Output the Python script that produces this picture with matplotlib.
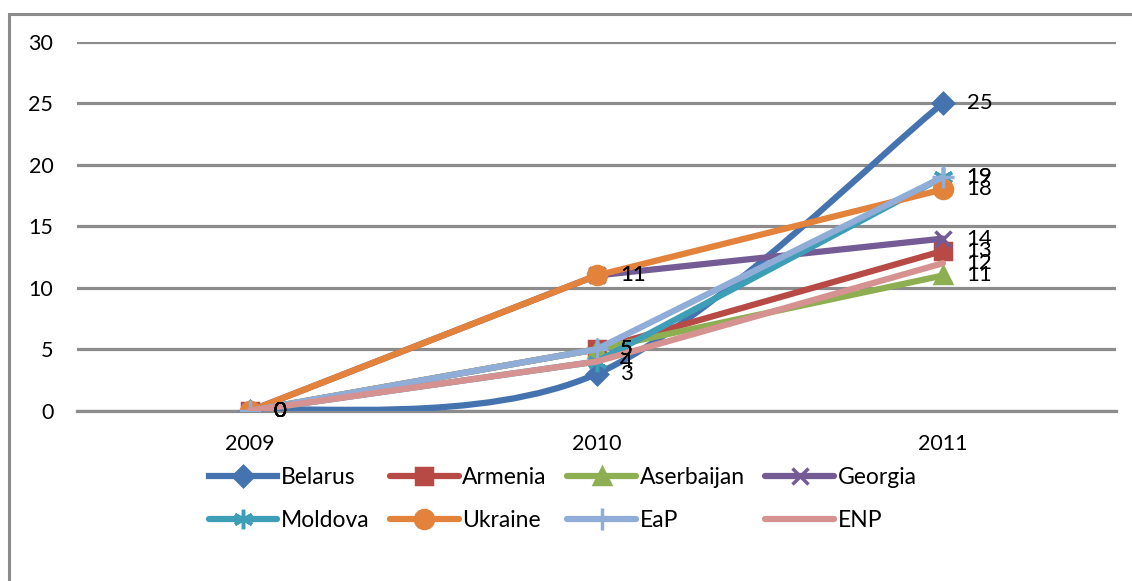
import matplotlib
matplotlib.use("Agg")
import matplotlib.pyplot as plt
import numpy as np
from matplotlib.path import Path
from matplotlib.patches import PathPatch, Rectangle

years = ["2009", "2010", "2011"]
series_names = ["Belarus", "Armenia", "Aserbaijan", "Georgia",
                "Moldova", "Ukraine", "EaP", "ENP"]
belarus = [0, 3, 25]
armenia = [0, 5, 13]
aserbaijan = [0, 5, 11]
georgia = [0, 11, 14]
moldova = [0, 4, 19]
ukraine = [0, 11, 18]
eap = [0, 5, 19]
enp = [0, 4, 12]
y_ticks = [0, 5, 10, 15, 20, 25, 30]

values = [belarus, armenia, aserbaijan, georgia, moldova, ukraine, eap, enp]
colors = ["#4573B0", "#B84A46", "#8DAF51", "#745B96",
          "#3F9EB7", "#E3823A", "#90ADD7", "#D69191"]
markers = ["D", "s", "^", "x", (6, 2, 0), "o", "+", None]
msizes = [10, 11, 12, 12, 14, 13, 16, 0]
smooth = [True] + [False] * 7

plt.rcParams["font.family"] = ["Lato", "DejaVu Sans"]

fig = plt.figure(figsize=(11.32, 5.81), dpi=100)
ax = fig.add_axes([0.068, 0.293, 0.918, 0.635])

# outer chart frame (only left/top visible in the crop)
fig.patches.append(Rectangle((0.008, -0.1), 1.1, 1.076, transform=fig.transFigure,
                             fill=False, edgecolor="#8C8C8C", linewidth=2.2))

x = np.arange(len(years))


def smooth_path(xs, ys):
    # Excel-style bezier smoothing through the data points
    pts = np.column_stack([xs, ys]).astype(float)
    n = len(pts)
    verts = [pts[0]]
    codes = [Path.MOVETO]
    for i in range(n - 1):
        p_prev = pts[max(i - 1, 0)]
        p0, p1 = pts[i], pts[i + 1]
        p_next = pts[min(i + 2, n - 1)]
        c1 = p0 + (p1 - p_prev) / 6.0
        c2 = p1 - (p_next - p0) / 6.0
        verts += [c1, c2, p1]
        codes += [Path.CURVE4] * 3
    return Path(verts, codes)


handles = []
for name, vals, col, mk, ms, sm in zip(series_names, values, colors, markers, msizes, smooth):
    if sm:
        ax.add_patch(PathPatch(smooth_path(x, vals), facecolor="none", edgecolor=col,
                               linewidth=4.5, capstyle="round", zorder=3))
        ax.plot(x, vals, color=col, linestyle="none", marker=mk,
                markersize=ms, markeredgewidth=2.5, zorder=3)
        leg_h, = ax.plot([], [], color=col, linewidth=4.5, marker=mk, markersize=ms,
                         markeredgewidth=2.5)
        handles.append(leg_h)
    else:
        h, = ax.plot(x, vals, color=col, linewidth=4.5, marker=mk, markersize=ms,
                     markeredgewidth=2.5, solid_capstyle="round", zorder=3)
        handles.append(h)
    for xi, v in zip(x, vals):
        ax.annotate(str(v), (xi, v), xytext=(17, 0), textcoords="offset points",
                    ha="left", va="center", fontsize=16, color="black", zorder=5)

ax.set_xlim(-0.5, 2.5)
ax.set_ylim(0, 30)
ax.set_xticks(x)
ax.set_xticklabels(years)
ax.set_yticks(y_ticks)
ax.tick_params(axis="both", length=0, labelsize=15.5)
ax.tick_params(axis="y", pad=17)
ax.tick_params(axis="x", pad=17)
ax.grid(axis="y", color="#8C8C8C", linewidth=2.3, zorder=0)
ax.set_axisbelow(True)
for side in ["left", "right", "top"]:
    ax.spines[side].set_visible(False)
ax.spines["bottom"].set_color("#8C8C8C")
ax.spines["bottom"].set_linewidth(2.3)

# legend fills column-wise; reorder so entries read row by row
order = [0, 4, 1, 5, 2, 6, 3, 7]
fig.legend([handles[i] for i in order], [series_names[i] for i in order],
           loc="upper center", bbox_to_anchor=(0.497, 0.232),
           ncol=4, frameon=False, fontsize=16.5, handlelength=3.0, handletextpad=0.15,
           columnspacing=0.9, labelspacing=0.95)

fig.savefig("out.png", dpi=100)
